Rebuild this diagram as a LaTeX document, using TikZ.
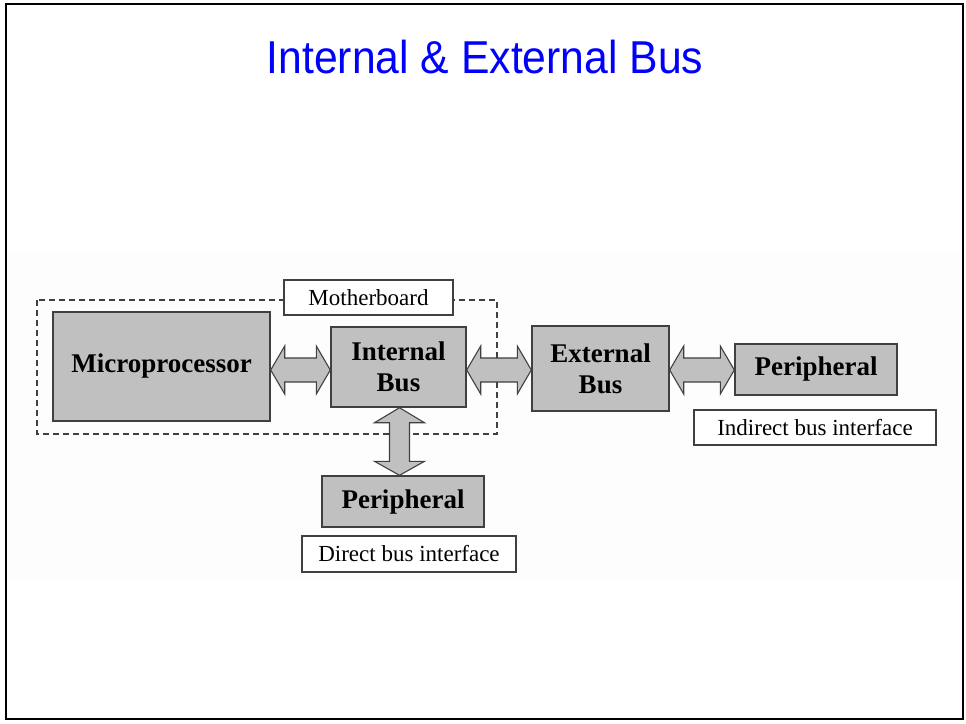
\documentclass[tikz,border=0pt]{standalone}
\usepackage{fontspec}
\usepackage{graphicx}
\setmainfont{Liberation Serif}
\newfontfamily\titlefont{Liberation Sans}
\usetikzlibrary{calc}
\definecolor{boxgray}{HTML}{C0C0C0}
\definecolor{edgegray}{HTML}{404040}
\definecolor{bandgray}{HTML}{FDFDFD}
\definecolor{titleblue}{HTML}{0000FF}
\tikzset{
  unit/.style={draw=edgegray, line width=1.4pt, fill=boxgray, inner sep=0pt, align=center,
    font=\fontsize{27}{31}\selectfont\bfseries},
  labelbox/.style={draw=edgegray, line width=1.2pt, fill=white, inner sep=0pt,
    font=\fontsize{23}{26}\selectfont},
  busarrow/.style={draw=edgegray, line width=1.1pt, fill=boxgray, line join=miter},
  board/.style={draw=edgegray, line width=1.2pt, dash pattern=on 6pt off 4pt},
}
\newcommand\hbus[3]{%
  \path (#1.east |- 0,#3) coordinate (bs) (#2.west |- 0,#3) coordinate (be);
  \draw[busarrow] (bs) -- ++(14,-24) -- ++(0,12) -- ($(be)+(-14,-12)$) -- ++(0,-12) -- (be)
    -- ++(-14,24) -- ++(0,-12) -- ($(bs)+(14,12)$) -- ++(0,12) -- cycle;}
\begin{document}
\begin{tikzpicture}[x=1pt,y=-1pt]
\useasboundingbox (0,0) rectangle (966,723);
\fill[bandgray] (9,250) rectangle (962,580);
\draw[line width=2.5pt] (6,4) rectangle (963,719);
\node[font=\titlefont\fontsize{42.7}{48}\selectfont, text=titleblue] (title) at (485,57) {\scalebox{1}[1.08]{Internal \& External Bus}};
% dashed motherboard frame
\draw[board] (37,300) rectangle (497,434);
\node[labelbox, minimum width=169pt, minimum height=35pt] (mb) at (368.5,297.5) {Motherboard};
% units
\node[unit, minimum width=217pt, minimum height=109pt] (mp) at (161.5,366.5) {Microprocessor};
\node[unit, minimum width=135pt, minimum height=80pt] (ib) at (398.5,367) {Internal\\Bus};
\node[unit, minimum width=137pt, minimum height=85pt] (eb) at (600.5,368.5) {External\\Bus};
\node[unit, minimum width=162pt, minimum height=51pt] (pr) at (816,369.5) {Peripheral};
\node[unit, minimum width=162pt, minimum height=51pt] (pd) at (403,501.5) {Peripheral};
\node[labelbox, minimum width=242pt, minimum height=35pt] (ind) at (815,427.5) {Indirect bus interface};
\node[labelbox, minimum width=214pt, minimum height=36pt] (dir) at (409,554) {Direct bus interface};
% bus arrows
\hbus{mp}{ib}{370}
\hbus{ib}{eb}{370}
\hbus{eb}{pr}{370}
\path (ib.south) ++(1,0) coordinate (vs) (vs |- pd.north) coordinate (ve);
\draw[busarrow] (vs) -- ++(-25,15) -- ++(15,0) -- ($(ve)+(-10,-14)$) -- ++(-15,0) -- (ve)
  -- ++(25,-14) -- ++(-15,0) -- ($(vs)+(10,15)$) -- ++(15,0) -- cycle;
\end{tikzpicture}
\end{document}
